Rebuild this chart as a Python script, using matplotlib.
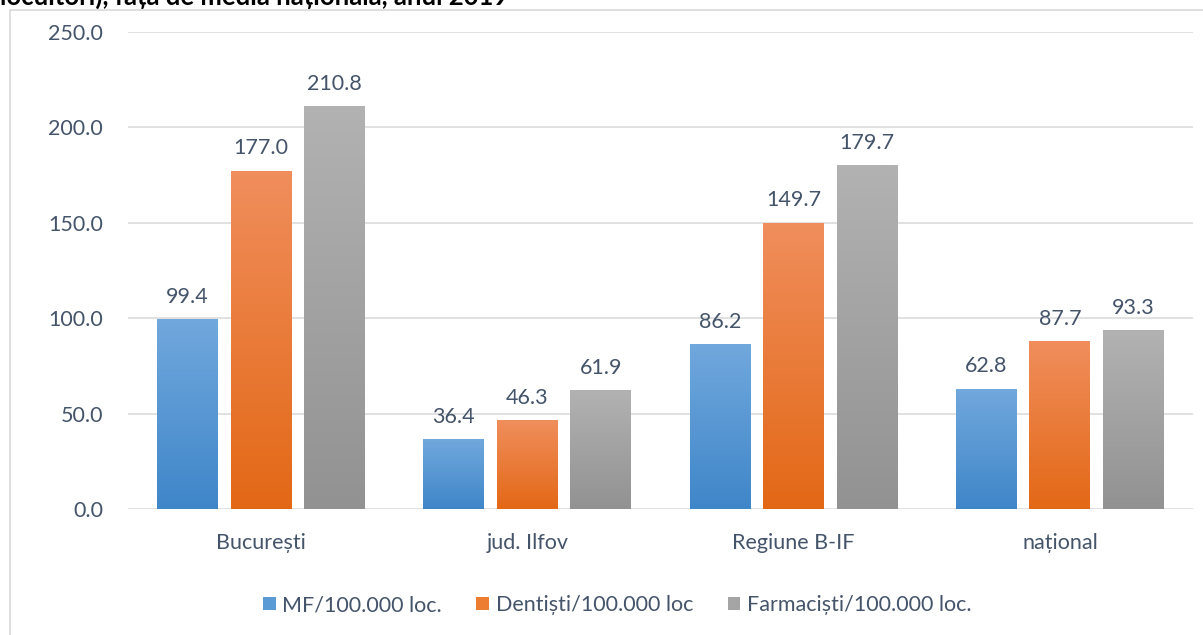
import numpy as np
import matplotlib
matplotlib.use("Agg")
import matplotlib.pyplot as plt
from matplotlib.colors import LinearSegmentedColormap
from matplotlib.patches import Patch, Rectangle

plt.rcParams['font.family'] = ['Lato', 'DejaVu Sans']

categories = ["București", "jud. Ilfov", "Regiune B-IF", "național"]
series_names = ["MF/100.000 loc.", "Dentiști/100.000 loc", "Farmaciști/100.000 loc."]
mf = [99.4, 36.4, 86.2, 62.8]
dentisti = [177.0, 46.3, 149.7, 87.7]
farmacisti = [210.8, 61.9, 179.7, 93.3]
yticks = [0, 50, 100, 150, 200, 250]

series = [mf, dentisti, farmacisti]
solid = ["#5B9BD5", "#ED7D31", "#A5A5A5"]
grad = [("#3F86C9", "#71A8DD"), ("#E36816", "#F08E5C"), ("#929292", "#B2B2B2")]
text_col = "#44546A"
fs = 15.5

fig = plt.figure(figsize=(12.03, 6.35), dpi=100)
ax = fig.add_axes([0.1064, 0.1984, 0.8853, 0.7518])

x = np.arange(len(categories))
width = 0.229
step = 0.276

for i, (vals, (c0, c1)) in enumerate(zip(series, grad)):
    bars = ax.bar(x + (i - 1) * step, vals, width, color="none", edgecolor="none", zorder=3)
    cmap = LinearSegmentedColormap.from_list(f"g{i}", [c0, c1])
    gradient = np.linspace(0, 1, 256).reshape(-1, 1)
    for b, v in zip(bars, vals):
        x0 = b.get_x()
        x1 = x0 + b.get_width()
        ax.imshow(gradient, extent=[x0, x1, 0, b.get_height()], origin="lower",
                  cmap=cmap, aspect="auto", zorder=3)
        ax.annotate(f"{v:.1f}", (x0 + b.get_width() / 2, v), xytext=(0, 12),
                    textcoords="offset points", ha="center", va="baseline",
                    fontsize=fs, color=text_col, zorder=4)

ax.set_xlim(-0.5, len(categories) - 0.5)
ax.set_ylim(0, 250)
ax.set_yticks(yticks)
ax.set_yticklabels([f"{t:.1f}" for t in yticks])
ax.set_xticks(x)
ax.set_xticklabels(categories)
ax.tick_params(axis="both", length=0, labelsize=fs, labelcolor=text_col)
ax.tick_params(axis="y", pad=18)
ax.tick_params(axis="x", pad=17)
ax.grid(axis="y", color="#D9D9D9", linewidth=1.1, zorder=0)
for s in ax.spines.values():
    s.set_visible(False)
ax.set_axisbelow(True)

# chart area frame
fig.patches.append(Rectangle((10 / 1203, -0.1), 1.2, 1 - 10 / 635 + 0.1,
                             transform=fig.transFigure, fill=False,
                             edgecolor="#D9D9D9", linewidth=1.2))

fig.text(0.0, 1 - 5 / 635, "locuitori), față de media națională, anul 2019",
         ha="left", va="baseline", fontsize=18.5, fontweight="bold", color="black")

handles = [Patch(facecolor=c, edgecolor="none") for c in solid]
fig.legend(handles, series_names, loc="center", bbox_to_anchor=(0.513, 0.047),
           ncol=3, frameon=False, fontsize=fs, labelcolor=text_col,
           handlelength=0.6, handleheight=0.6, handletextpad=0.3, columnspacing=1.6)

fig.savefig("out.png", dpi=100)
